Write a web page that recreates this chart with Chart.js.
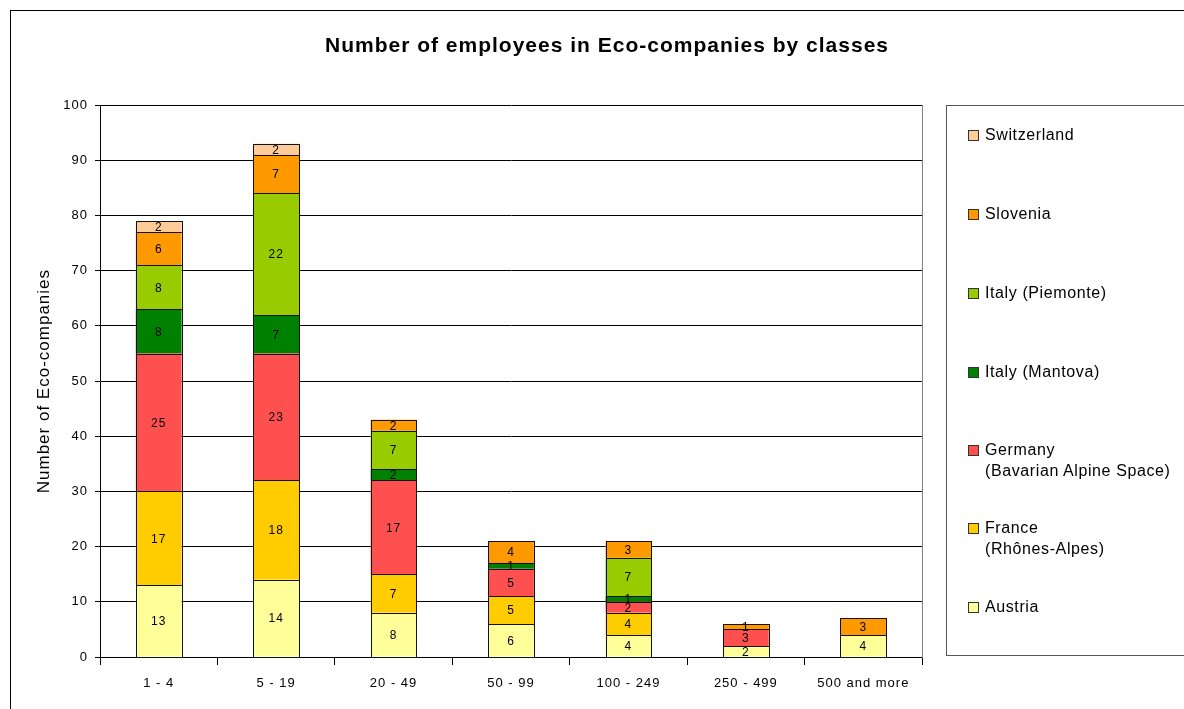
<!DOCTYPE html>
<html>
<head>
<meta charset="utf-8">
<script src="https://cdn.jsdelivr.net/npm/chart.js@4"></script>
<style>
  body { margin: 0; background: #fff; font-family: 'Liberation Sans', Arial, sans-serif; }
  #wrap { position: relative; width: 1184px; height: 709px; overflow: hidden; }
  #frame { position: absolute; left: 10px; top: 10px; width: 1200px; height: 720px; border: 1px solid #000; }
  #chart { position: absolute; left: 0; top: 0; }
  #legend { position: absolute; left: 946px; top: 105px; width: 260px; height: 549px; border: 1px solid #555; }
  .item { position: absolute; left: 21px; font-size: 16px; line-height: 21px; letter-spacing: 0.6px; color: #000; }
  .item span.box { position: absolute; left: 0; top: 6px; width: 9px; height: 9px; border: 1px solid #333; }
  .item div { padding-left: 17px; white-space: nowrap; }
</style>
</head>
<body>
<div id="wrap">
  <div id="frame"></div>
  <canvas id="chart" width="1184" height="709"></canvas>
  <div id="legend"></div>
</div>
<script>
// --------------------------------
// Data
// --------------------------------

const classes = ['1 - 4', '5 - 19', '20 - 49', '50 - 99', '100 - 249', '250 - 499', '500 and more'];

const austria = [13, 14, 8, 6, 4, 2, 4];
const france = [17, 18, 7, 5, 4, 0, 0];
const germany = [25, 23, 17, 5, 2, 3, 0];
const italyMantova = [8, 7, 2, 1, 1, 0, 0];
const italyPiemonte = [8, 22, 7, 0, 7, 0, 0];
const slovenia = [6, 7, 2, 4, 3, 1, 3];
const switzerland = [2, 2, 0, 0, 0, 0, 0];

const seriesNames = [
    ['Austria'],
    ['France', '(Rhônes-Alpes)'],
    ['Germany', '(Bavarian Alpine Space)'],
    ['Italy  (Mantova)'],
    ['Italy  (Piemonte)'],
    ['Slovenia'],
    ['Switzerland']
];
const seriesData = [austria, france, germany, italyMantova, italyPiemonte, slovenia, switzerland];
const seriesColors = ['#FFFF99', '#FFCC00', '#FF5050', '#008000', '#99CC00', '#FF9900', '#FFCC99'];

const yTicks = [0, 10, 20, 30, 40, 50, 60, 70, 80, 90, 100];

// --------------------------------
// Plugins
// --------------------------------

const spacing = {
    id: 'spacing',
    beforeUpdate(chart) { chart.ctx.letterSpacing = '1px'; },
    beforeDraw(chart) { chart.ctx.letterSpacing = '1px'; }
};

// crisp outlines + value text on each stacked segment
const segmentLabels = {
    id: 'segmentLabels',
    afterDatasetsDraw(chart) {
        const ctx = chart.ctx;
        ctx.save();
        ctx.strokeStyle = '#111';
        ctx.lineWidth = 1;
        ctx.font = '12px "Liberation Sans", Arial, sans-serif';
        ctx.fillStyle = '#000';
        ctx.textAlign = 'center';
        ctx.textBaseline = 'middle';
        chart.data.datasets.forEach((ds, i) => {
            const meta = chart.getDatasetMeta(i);
            meta.data.forEach((bar, j) => {
                if (!ds.data[j]) return;
                const l = Math.round(bar.x - bar.width / 2) + 0.5;
                const r = Math.round(bar.x + bar.width / 2) + 0.5;
                const t = Math.round(bar.y) + 0.5;
                const b = Math.round(bar.base) + 0.5;
                ctx.strokeRect(l, t, r - l, b - t);
            });
        });
        chart.data.datasets.forEach((ds, i) => {
            const meta = chart.getDatasetMeta(i);
            meta.data.forEach((bar, j) => {
                if (!ds.data[j]) return;
                ctx.fillText(ds.data[j], bar.x, (bar.y + bar.base) / 2 + 1);
            });
        });
        ctx.restore();
    }
};

// --------------------------------
// Chart
// --------------------------------

const datasets = seriesData.map((d, i) => ({
    label: seriesNames[i].join(' '),
    data: d,
    backgroundColor: seriesColors[i],
    borderWidth: 0,
    barPercentage: 0.39,
    categoryPercentage: 1
}));

const chart = new Chart(document.getElementById('chart'), {
    type: 'bar',
    data: { labels: classes, datasets: datasets },
    plugins: [spacing, segmentLabels],
    options: {
        responsive: false,
        animation: false,
        layout: { padding: { left: 30, right: 0, top: 0, bottom: 0 } },
        plugins: {
            legend: { display: false },
            tooltip: { enabled: false },
            title: {
                display: true,
                text: 'Number of employees in Eco-companies by classes',
                color: '#000',
                font: { family: '"Liberation Sans", Arial, sans-serif', size: 21, weight: 'bold', lineHeight: 1.2 },
                padding: { top: 34, bottom: 46 }
            }
        },
        scales: {
            x: {
                stacked: true,
                afterFit(scale) { scale.height = 52; },
                grid: { offset: true, drawOnChartArea: false, color: '#000', tickLength: 8 },
                border: { color: '#000' },
                ticks: {
                    color: '#000',
                    padding: 11,
                    maxRotation: 0,
                    font: { family: '"Liberation Sans", Arial, sans-serif', size: 13 }
                }
            },
            y: {
                stacked: true,
                min: 0,
                max: 100,
                afterFit(scale) { scale.width = 70; },
                afterBuildTicks(scale) { scale.ticks = yTicks.map(v => ({ value: v })); },
                grid: { color: '#000', tickLength: 5 },
                border: { color: '#000' },
                ticks: {
                    color: '#000',
                    padding: 7,
                    font: { family: '"Liberation Sans", Arial, sans-serif', size: 13 }
                },
                title: {
                    display: true,
                    text: 'Number of Eco-companies',
                    color: '#000',
                    font: { family: '"Liberation Sans", Arial, sans-serif', size: 17 }
                }
            },
            y2: {
                position: 'right',
                min: 0,
                max: 100,
                afterFit(scale) { scale.width = 262; },
                grid: { display: false, drawTicks: false },
                border: { color: '#808080' },
                ticks: { display: false }
            }
        }
    }
});

// --------------------------------
// Legend (top entry = last series)
// --------------------------------

const legend = document.getElementById('legend');
const legendTops = [490, 411, 333, 255, 176, 97, 18];
for (let i = seriesNames.length - 1; i >= 0; i--) {
    const item = document.createElement('div');
    item.className = 'item';
    item.style.top = legendTops[i] + 'px';
    item.innerHTML = '<span class="box" style="background:' + seriesColors[i] + '"></span>' +
        seriesNames[i].map(t => '<div>' + t + '</div>').join('');
    legend.appendChild(item);
}
</script>
</body>
</html>
